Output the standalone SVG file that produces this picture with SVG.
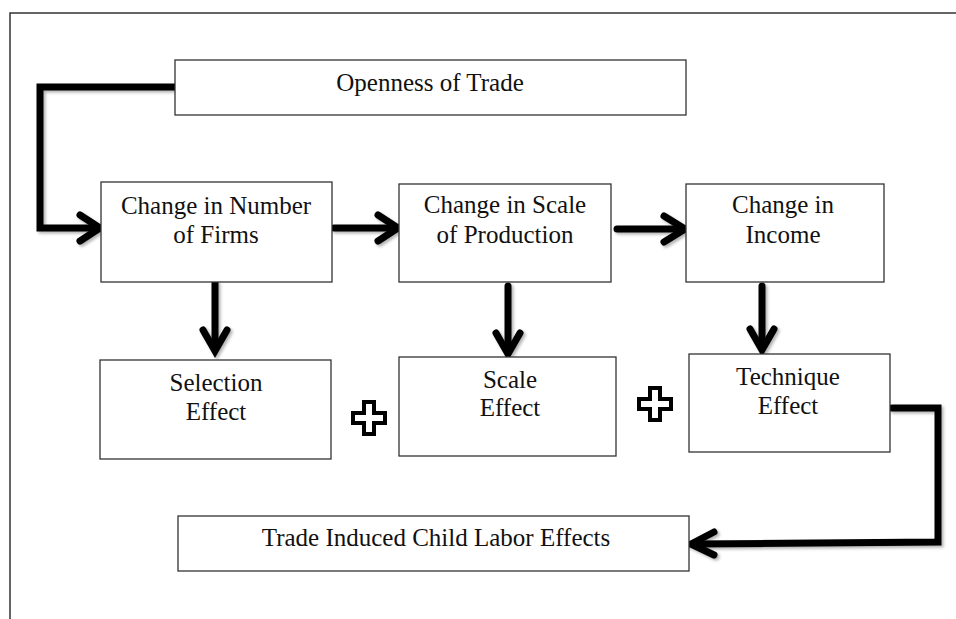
<svg xmlns="http://www.w3.org/2000/svg" width="956" height="619" viewBox="0 0 956 619">
<defs>
<style>
.box{fill:#fff;stroke:#333;stroke-width:1.3}
.t{font-family:"Liberation Serif","Times New Roman",serif;font-size:25px;fill:#111;text-anchor:middle}
.c{fill:none;stroke:#000;stroke-width:7;stroke-linecap:round;stroke-linejoin:miter}
.plus{fill:#fff;stroke:#000;stroke-width:4;stroke-linejoin:miter}
</style>
<filter id="sh" x="-10%" y="-10%" width="130%" height="130%">
<feDropShadow dx="2" dy="2" stdDeviation="1.5" flood-color="#000" flood-opacity="0.3"/>
</filter>
</defs>
<rect width="956" height="619" fill="#fff"/>
<path d="M10 619 V13 H956" fill="none" stroke="#333" stroke-width="1.5"/>

<g id="connectors" filter="url(#sh)">
<path class="c" d="M175 87 H40 V228 H97"/>
<path class="c" d="M80 215 L100 228 L80 241"/>
<path class="c" d="M334 228 H395"/>
<path class="c" d="M378 215 L398 228 L378 241"/>
<path class="c" d="M617 229 H682"/>
<path class="c" d="M664 216 L685 229 L664 242"/>
<path class="c" d="M215 283 V349"/>
<path class="c" d="M203 330 L215 351 L227 330"/>
<path class="c" d="M508 286 V351"/>
<path class="c" d="M496 333 L508 354 L520 333"/>
<path class="c" d="M762 286 V347"/>
<path class="c" d="M750 329 L762 350 L774 329"/>
<path class="c" d="M892 408 H938 V542 L693 544"/>
<path class="c" d="M714 532 L691 544 L714 555"/>
</g>

<g id="n-openness">
<rect class="box" x="175" y="60" width="511" height="55"/>
<text class="t" x="430" y="91">Openness of Trade</text>
</g>
<g id="n-firms">
<rect class="box" x="101" y="182" width="231" height="100"/>
<text class="t" x="216" y="214">Change in Number</text>
<text class="t" x="216" y="243">of Firms</text>
</g>
<g id="n-scaleprod">
<rect class="box" x="399" y="184" width="212" height="98"/>
<text class="t" x="505" y="213">Change in Scale</text>
<text class="t" x="505" y="243">of Production</text>
</g>
<g id="n-income">
<rect class="box" x="686" y="184" width="198" height="98"/>
<text class="t" x="783" y="213">Change in</text>
<text class="t" x="783" y="243">Income</text>
</g>
<g id="n-selection">
<rect class="box" x="100" y="360" width="231" height="99"/>
<text class="t" x="216" y="391">Selection</text>
<text class="t" x="216" y="420">Effect</text>
</g>
<g id="n-scale">
<rect class="box" x="399" y="357" width="217" height="99"/>
<text class="t" x="510" y="388">Scale</text>
<text class="t" x="510" y="416">Effect</text>
</g>
<g id="n-technique">
<rect class="box" x="689" y="354" width="201" height="98"/>
<text class="t" x="788" y="385">Technique</text>
<text class="t" x="788" y="414">Effect</text>
</g>
<g id="n-childlabor">
<rect class="box" x="178" y="516" width="511" height="55"/>
<text class="t" x="436" y="546">Trade Induced Child Labor Effects</text>
</g>
<g id="plus1">
<path class="plus" d="M364 402 h10 v11 h11 v10 h-11 v11 h-10 v-11 h-11 v-10 h11 z"/>
</g>
<g id="plus2">
<path class="plus" d="M650 388 h10 v11 h11 v10 h-11 v11 h-10 v-11 h-11 v-10 h11 z"/>
</g>
</svg>
